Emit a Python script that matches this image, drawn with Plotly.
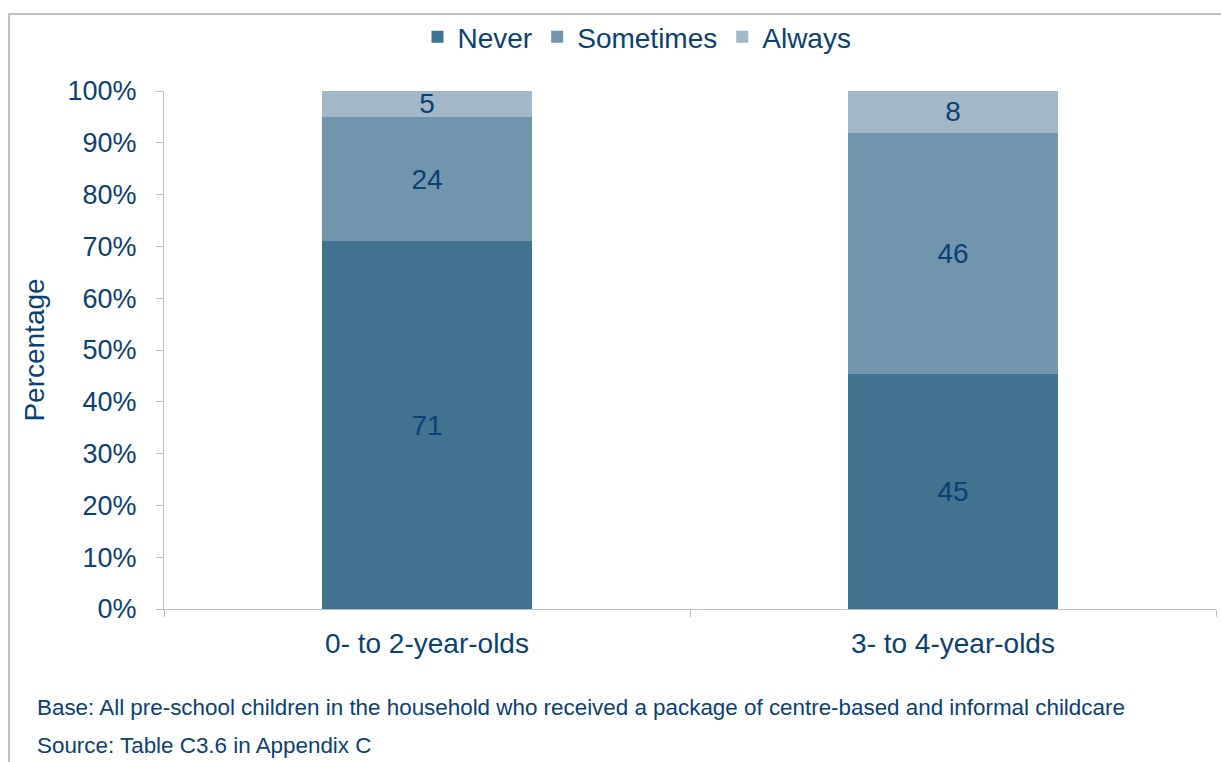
import plotly.graph_objects as go

categories = ["0- to 2-year-olds", "3- to 4-year-olds"]
never = [71, 45]
sometimes = [24, 46]
always = [5, 8]
series_names = ["Never", "Sometimes", "Always"]
colors = ["#41728F", "#7195AD", "#A2B8C8"]
ytick_vals = list(range(0, 101, 10))
ytick_text = [f"{v}%" for v in ytick_vals]

navy = "#0B4174"
FONT = "Liberation Sans, Arial, sans-serif"

W, H = 1221, 762
L, T = 164, 91
R = W - 1216
B = H - 609
pw, ph = W - L - R, H - T - B

def px_x(px):
    return (px - L) / pw

def px_y(py):
    return (H - B - py) / ph

fig = go.Figure()
for name, vals, col in zip(series_names, [never, sometimes, always], colors):
    fig.add_trace(go.Bar(
        x=categories, y=vals, name=name,
        marker=dict(color=col, line=dict(width=0)),
        text=[str(v) for v in vals], textposition="inside",
        insidetextanchor="middle", textangle=0, constraintext="none",
        textfont=dict(color=navy, size=28, family=FONT),
        hoverinfo="skip",
    ))

fig.update_layout(
    width=W, height=H,
    barmode="stack", barnorm="percent", bargap=0.6,
    margin=dict(l=L, r=R, t=T, b=B, autoexpand=False),
    paper_bgcolor="white", plot_bgcolor="white",
    font=dict(family=FONT, color=navy, size=28),
    legend=dict(orientation="h", x=px_x(637), xanchor="center",
                y=px_y(37), yanchor="middle",
                font=dict(size=28, color=navy), itemwidth=30,
                traceorder="normal", bgcolor="rgba(0,0,0,0)"),
    showlegend=True,
)
fig.update_yaxes(
    range=[0, 100], tickvals=ytick_vals, ticktext=ytick_text,
    showgrid=False, zeroline=False,
    showline=True, linecolor="#B8C0CC", linewidth=1,
    ticks="outside", ticklen=7, tickcolor="#B8C0CC",
    ticklabelstandoff=14,
    tickfont=dict(size=27, color=navy),
    title=dict(text="Percentage", font=dict(size=28, color=navy), standoff=14),
)
fig.update_xaxes(
    showgrid=False, showline=True, linecolor="#B8C0CC", linewidth=1,
    ticks="outside", ticklen=7, tickcolor="#B8C0CC", tickson="boundaries",
    ticklabelstandoff=9,
    tickfont=dict(size=28, color=navy),
)

# outer frame (top and left edges visible)
fig.add_shape(type="line", xref="paper", yref="paper",
              x0=px_x(8), x1=px_x(1221), y0=px_y(14), y1=px_y(14),
              line=dict(color="#C0C0C0", width=2))
fig.add_shape(type="line", xref="paper", yref="paper",
              x0=px_x(9), x1=px_x(9), y0=px_y(14), y1=px_y(762),
              line=dict(color="#C0C0C0", width=2))

fig.add_annotation(text="Base: All pre-school children in the household who received a package of centre-based and informal childcare",
                   xref="paper", yref="paper", x=px_x(35), y=px_y(707),
                   xanchor="left", yanchor="middle", showarrow=False,
                   font=dict(size=22.4, color=navy))
fig.add_annotation(text="Source: Table C3.6 in Appendix C",
                   xref="paper", yref="paper", x=px_x(35), y=px_y(745),
                   xanchor="left", yanchor="middle", showarrow=False,
                   font=dict(size=22.4, color=navy))

fig.write_html("out.html", config={"displayModeBar": False},
               post_script="document.body.style.margin='0';document.body.style.overflow='hidden';")
